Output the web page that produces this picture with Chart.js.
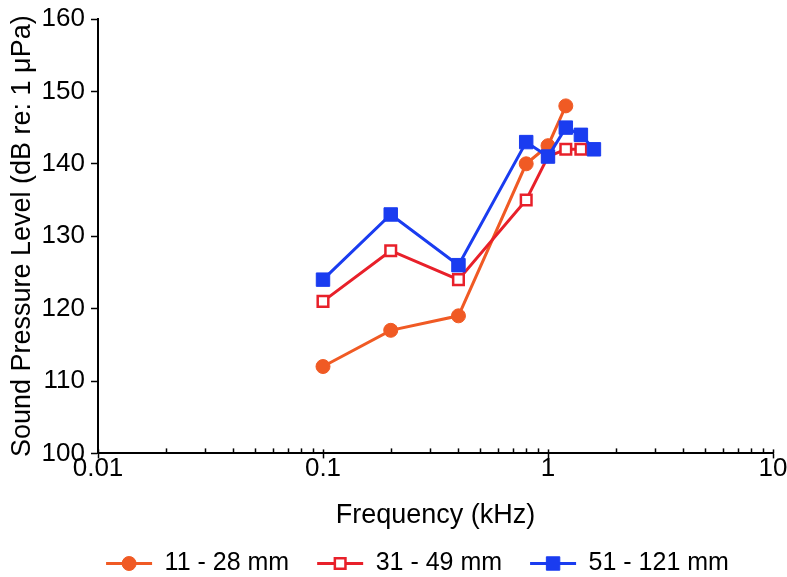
<!DOCTYPE html>
<html>
<head>
<meta charset="utf-8">
<script src="https://cdn.jsdelivr.net/npm/chart.js@4/dist/chart.umd.min.js"></script>
<style>
  html, body { margin: 0; padding: 0; background: #fff; }
  #wrap { width: 787px; height: 577px; }
</style>
</head>
<body>
<div id="wrap"><canvas id="splChart" width="787" height="577"></canvas></div>
<script>
// frequency (kHz) and SPL (dB re: 1 µPa)
const seriesNames = ["11 - 28 mm", "31 - 49 mm", "51 - 121 mm"];

const freqSmall = [0.1, 0.2, 0.4, 0.8, 1.0, 1.2];
const splSmall  = [112, 117, 119, 140, 142.5, 148];

const freqMid = [0.1, 0.2, 0.4, 0.8, 1.0, 1.2, 1.4];
const splMid  = [121, 128, 124, 135, 141, 142, 142];

const freqLarge = [0.1, 0.2, 0.4, 0.8, 1.0, 1.2, 1.4, 1.6];
const splLarge  = [124, 133, 126, 143, 141, 145, 144, 142];

const yTicks = [100, 110, 120, 130, 140, 150, 160];
const xDecades = [0.01, 0.1, 1, 10];

const FONT = "'Liberation Sans', Arial, Helvetica, sans-serif";
const LEGEND_SHIFT = 31; // legend row sits right of the canvas centre in the original

function isDecade(v) {
  const l = Math.log10(v);
  return Math.abs(l - Math.round(l)) < 1e-9;
}

function toPoints(xs, ys) {
  return xs.map((x, i) => ({ x, y: ys[i] }));
}

// small inward ticks along the bottom axis
const innerTicks = {
  id: "innerTicks",
  beforeDatasetsDraw(chart) {
    const x = chart.scales.x;
    const ctx = chart.ctx;
    const bottom = chart.chartArea.bottom;
    ctx.save();
    ctx.strokeStyle = "#000";
    ctx.lineWidth = 1.5;
    x.ticks.forEach(t => {
      const px = Math.round(x.getPixelForValue(t.value)) + 0.5;
      const len = isDecade(t.value) ? 4 : 5;
      ctx.beginPath();
      ctx.moveTo(px, bottom);
      ctx.lineTo(px, bottom - len);
      ctx.stroke();
    });
    ctx.restore();
  }
};

function drawMarker(ctx, ds, cx, cy) {
  const r = ds.pointRadius;
  ctx.fillStyle = ds.pointBackgroundColor;
  ctx.strokeStyle = ds.pointBorderColor;
  ctx.lineWidth = ds.pointBorderWidth;
  ctx.beginPath();
  if (ds.pointStyle === "circle") {
    ctx.arc(cx, cy, r, 0, Math.PI * 2);
  } else {
    const s = r * Math.SQRT1_2;
    ctx.rect(cx - s, cy - s, 2 * s, 2 * s);
  }
  ctx.fill();
  ctx.stroke();
}

// shift the legend row sideways and give each entry a line + marker sample
const legendLines = {
  id: "legendLines",
  afterLayout(chart) {
    const lg = chart.legend;
    if (!lg || lg._shifted) return;
    const orig = lg.draw.bind(lg);
    lg.draw = function (area) {
      chart.ctx.save();
      chart.ctx.translate(LEGEND_SHIFT, 0);
      orig(area);
      chart.ctx.restore();
    };
    lg._shifted = true;
  },
  afterDraw(chart) {
    const lg = chart.legend;
    if (!lg || !lg.legendHitBoxes) return;
    const ctx = chart.ctx;
    const bw = lg.options.labels.boxWidth;
    lg.legendItems.forEach((item, i) => {
      const hb = lg.legendHitBoxes[i];
      const ds = chart.data.datasets[item.datasetIndex];
      const left = hb.left + LEGEND_SHIFT;
      const cy = hb.top + hb.height / 2;
      ctx.save();
      ctx.strokeStyle = ds.borderColor;
      ctx.lineWidth = ds.borderWidth;
      ctx.beginPath();
      ctx.moveTo(left, cy);
      ctx.lineTo(left + bw, cy);
      ctx.stroke();
      drawMarker(ctx, ds, left + bw / 2, cy);
      ctx.restore();
    });
  }
};

function pointOpts(color, style, radius, fill) {
  return {
    borderColor: color,
    borderWidth: 3,
    pointStyle: style,
    pointRadius: radius,
    pointHoverRadius: radius,
    pointBackgroundColor: fill,
    pointBorderColor: color,
    pointBorderWidth: fill === "#fff" ? 2.5 : 1,
    showLine: true,
    tension: 0,
    fill: false
  };
}

const datasets = [
  Object.assign({ label: seriesNames[0], data: toPoints(freqSmall, splSmall), order: 3 },
    pointOpts("#f05a24", "circle", 7, "#f05a24")),
  Object.assign({ label: seriesNames[1], data: toPoints(freqMid, splMid), order: 2 },
    pointOpts("#e8202a", "rect", 7.5, "#fff")),
  Object.assign({ label: seriesNames[2], data: toPoints(freqLarge, splLarge), order: 1 },
    pointOpts("#1a3cf0", "rect", 9.5, "#1a3cf0"))
];

new Chart(document.getElementById("splChart"), {
  type: "scatter",
  data: { datasets },
  plugins: [innerTicks, legendLines],
  options: {
    responsive: false,
    animation: false,
    layout: { padding: { top: 0, right: 14, left: 0, bottom: -9 } },
    plugins: {
      tooltip: { enabled: false },
      legend: {
        position: "bottom",
        labels: {
          boxWidth: 46,
          boxHeight: 12,
          padding: 28,
          color: "#000",
          font: { family: FONT, size: 25 },
          sort: (a, b) => a.datasetIndex - b.datasetIndex,
          generateLabels(chart) {
            return chart.data.datasets.map((ds, i) => ({
              text: ds.label,
              datasetIndex: i,
              fillStyle: "rgba(0,0,0,0)",
              strokeStyle: "rgba(0,0,0,0)",
              lineWidth: 0,
              hidden: false
            }));
          }
        }
      }
    },
    scales: {
      x: {
        type: "logarithmic",
        min: 0.01,
        max: 10,
        afterBuildTicks(scale) {
          const vals = [];
          for (let d = 0; d < xDecades.length - 1; d++) {
            for (let m = 1; m < 10; m++) vals.push(+(xDecades[d] * m).toPrecision(3));
          }
          vals.push(xDecades[xDecades.length - 1]);
          scale.ticks = vals.map(v => ({ value: v, major: isDecade(v) }));
        },
        ticks: {
          autoSkip: false,
          maxRotation: 0,
          color: "#000",
          padding: -5,
          font: { family: FONT, size: 26 },
          callback: (v) => isDecade(v) ? String(v) : ""
        },
        grid: {
          drawOnChartArea: false,
          tickLength: 5,
          tickWidth: 1.5,
          tickColor: (c) => (c.tick && isDecade(c.tick.value)) ? "#000" : "rgba(0,0,0,0)"
        },
        border: { display: true, color: "#000", width: 2 },
        title: {
          display: true,
          text: "Frequency (kHz)",
          color: "#000",
          font: { family: FONT, size: 27 },
          padding: { top: 20, bottom: -9 }
        }
      },
      y: {
        min: 100,
        max: 160,
        afterBuildTicks(scale) {
          scale.ticks = yTicks.map(v => ({ value: v }));
        },
        afterFit(scale) { scale.width = 98; },
        ticks: {
          color: "#000",
          padding: 6,
          font: { family: FONT, size: 26, lineHeight: 1.0 }
        },
        grid: {
          drawOnChartArea: false,
          tickLength: 7,
          tickWidth: 1.5,
          tickColor: "#000"
        },
        border: { display: true, color: "#000", width: 2 },
        title: {
          display: true,
          text: "Sound Pressure Level (dB re: 1 \u03bcPa)",
          color: "#000",
          font: { family: FONT, size: 27 },
          padding: { top: 6, bottom: 0 }
        }
      }
    }
  }
});
</script>
</body>
</html>
